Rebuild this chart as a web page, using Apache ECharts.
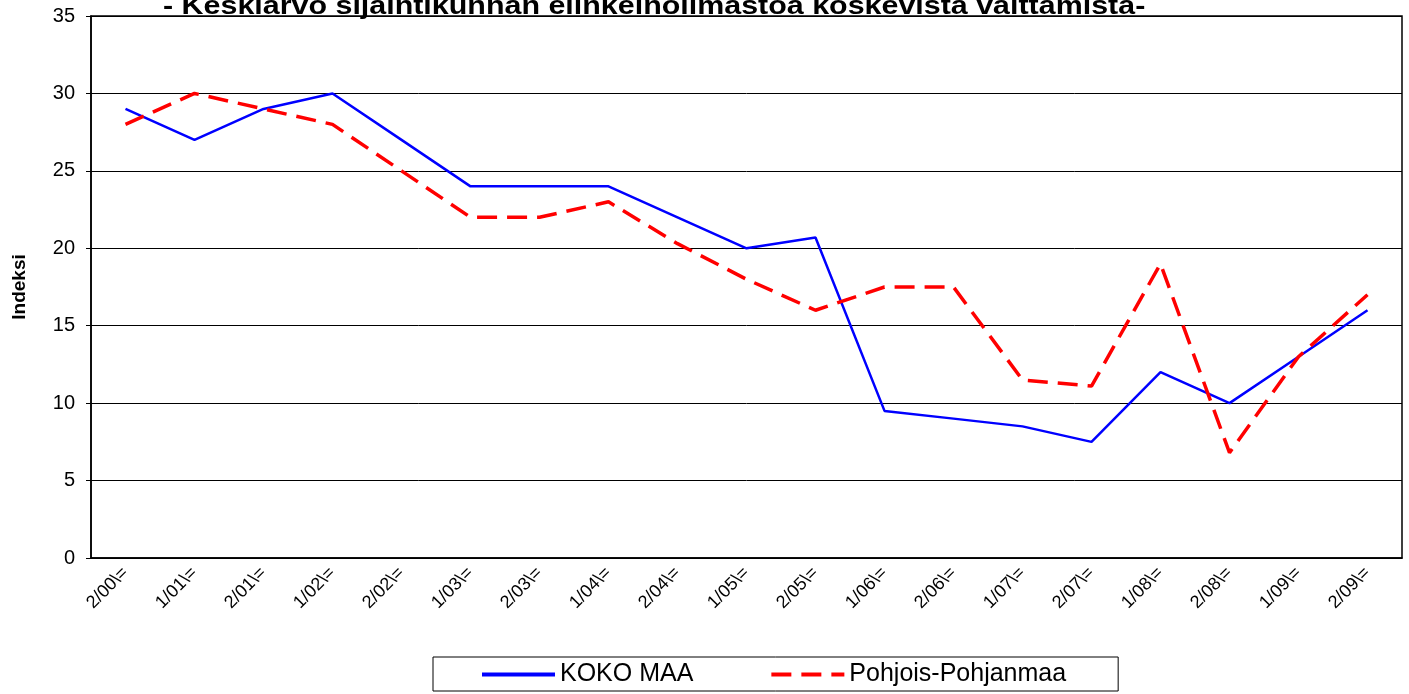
<!DOCTYPE html>
<html>
<head>
<meta charset="utf-8">
<script src="https://cdn.jsdelivr.net/npm/echarts@6/dist/echarts.min.js"></script>
<style>
  html, body { margin: 0; padding: 0; background: #fff; }
  #main { width: 1409px; height: 694px; }
</style>
</head>
<body>
<div id="main"></div>
<script>
var categories = ["2/00\\=", "1/01\\=", "2/01\\=", "1/02\\=", "2/02\\=", "1/03\\=", "2/03\\=", "1/04\\=",
  "2/04\\=", "1/05\\=", "2/05\\=", "1/06\\=", "2/06\\=", "1/07\\=", "2/07\\=", "1/08\\=", "2/08\\=",
  "1/09\\=", "2/09\\="];
var kokoMaa = [29, 27, 29, 30, 27, 24, 24, 24, 22, 20, 20.7, 9.5, 9, 8.5, 7.5, 12, 10, 13, 16];
var pohjoisPohjanmaa = [28, 30, 29, 28, 25, 22, 22, 23, 20.3, 18, 16, 17.5, 17.5, 11.5, 11.1, 19, 6.8, 13, 17];

var myChart = echarts.init(document.getElementById("main"));
var font = "Liberation Sans, Arial, sans-serif";
var option = {
  animation: false,
  backgroundColor: "#fff",
  graphic: [
    {
      type: "text",
      x: 163,
      y: -6,
      scaleX: 1.17,
      style: {
        text: "- Keskiarvo sijaintikunnan elinkeinoilmastoa koskevista väittämistä-",
        font: "bold 26px " + font,
        fill: "#000"
      }
    }
  ],
  grid: {
    left: 91,
    right: 7,
    top: 16,
    bottom: 136,
    show: true,
    borderColor: "#000",
    borderWidth: 1.5
  },
  legend: {
    left: 433,
    top: 657,
    orient: "horizontal",
    borderColor: "#000",
    borderWidth: 1,
    padding: [5, 52, 4, 47],
    itemWidth: 73,
    itemHeight: 14,
    itemGap: 76,
    itemStyle: { opacity: 0 },
    lineStyle: { width: 4 },
    textStyle: { fontFamily: font, fontSize: 25, color: "#000" },
    data: ["KOKO MAA", "Pohjois-Pohjanmaa"]
  },
  xAxis: {
    type: "category",
    data: categories,
    boundaryGap: true,
    axisLine: { lineStyle: { color: "#000", width: 1.5 } },
    axisTick: { show: false },
    axisLabel: {
      rotate: 45,
      interval: 0,
      margin: 12,
      fontFamily: font,
      fontSize: 18,
      color: "#000"
    }
  },
  yAxis: {
    type: "value",
    min: 0,
    max: 35,
    interval: 5,
    name: "Indeksi",
    nameLocation: "middle",
    nameGap: 62,
    nameTextStyle: { fontFamily: font, fontSize: 19, fontWeight: "bold", color: "#000" },
    axisLine: { show: true, lineStyle: { color: "#000", width: 1.5 } },
    axisTick: { show: true, length: 5, lineStyle: { color: "#000" } },
    axisLabel: { fontFamily: font, fontSize: 20, color: "#000", margin: 16 },
    splitLine: { lineStyle: { color: "#000", width: 1 } }
  },
  series: [
    {
      name: "KOKO MAA",
      type: "line",
      data: kokoMaa,
      symbol: "none",
      itemStyle: { color: "#0000ff" },
      lineStyle: { color: "#0000ff", width: 2.5 }
    },
    {
      name: "Pohjois-Pohjanmaa",
      type: "line",
      data: pohjoisPohjanmaa,
      symbol: "none",
      itemStyle: { color: "#ff0000" },
      lineStyle: { color: "#ff0000", width: 3.5, type: [20, 10] }
    }
  ]
};
option && myChart.setOption(option);
</script>
</body>
</html>
